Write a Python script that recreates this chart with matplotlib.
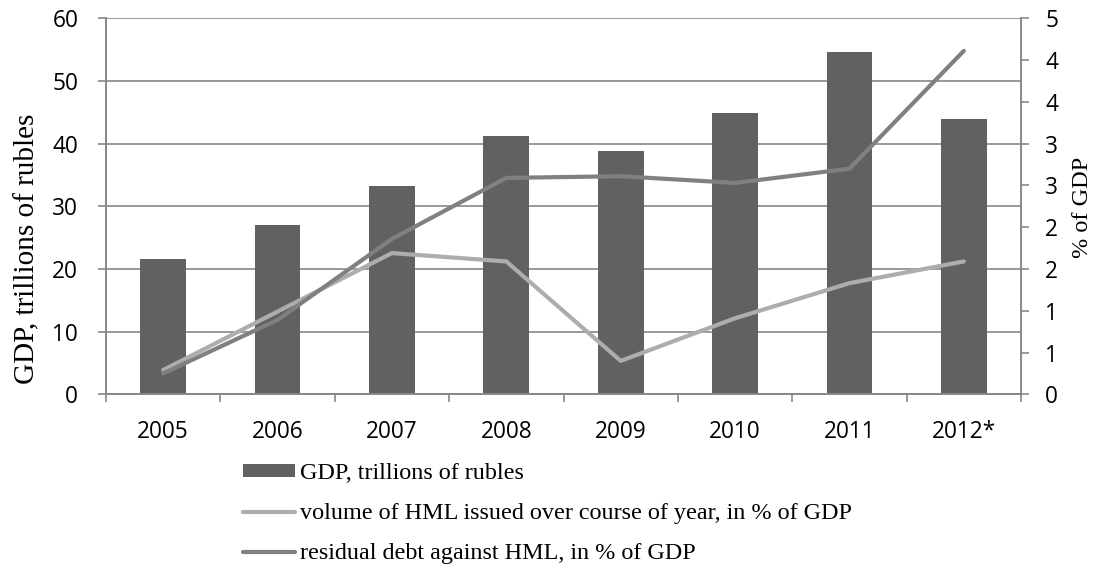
import numpy as np
import matplotlib
matplotlib.use("Agg")
import matplotlib.pyplot as plt
from matplotlib.patches import Patch
from matplotlib.lines import Line2D
from matplotlib.ticker import FuncFormatter

# data
years = ["2005", "2006", "2007", "2008", "2009", "2010", "2011", "2012*"]
gdp = [21.6, 27.0, 33.3, 41.2, 38.8, 44.9, 54.6, 44.0]          # trillions of rubles
hml_issued = [0.29, 0.99, 1.69, 1.59, 0.40, 0.91, 1.33, 1.59]   # % of GDP
hml_debt = [0.25, 0.89, 1.86, 2.59, 2.61, 2.53, 2.70, 4.11]     # % of GDP

bar_color = "#616161"
light_color = "#ADADAD"
dark_color = "#808080"
axis_color = "#888888"

sans = ["Open Sans", "DejaVu Sans"]
serif = ["Liberation Serif", "DejaVu Serif"]

fig = plt.figure(figsize=(11, 5.69), dpi=100)
ax = fig.add_axes([106 / 1100, 1 - 394.3 / 569, 915 / 1100, 376 / 569])
ax2 = ax.twinx()

x = np.arange(len(years))
ax.bar(x, gdp, width=0.4, color=bar_color, zorder=2)
ax2.plot(x, hml_issued, color=light_color, lw=3, solid_capstyle="round",
         solid_joinstyle="round", zorder=3)
ax2.plot(x, hml_debt, color=dark_color, lw=3, solid_capstyle="round",
         solid_joinstyle="round", zorder=3)

# left axis
ax.set_xlim(-0.5, len(years) - 0.5)
ax.set_ylim(0, 60)
ax.set_yticks(np.arange(0, 61, 10))
ax.yaxis.grid(True, color=axis_color, lw=1.2, zorder=0)
ax.set_axisbelow(True)
ax.set_xticks(np.arange(-0.5, len(years), 1.0))
ax.set_xticklabels([])
ax.set_xticks(x, minor=True)
ax.set_xticklabels(years, minor=True, fontfamily=sans, fontsize=16.3)
ax.tick_params(axis="x", which="major", length=6, width=1.2, color=axis_color, direction="out")
ax.tick_params(axis="x", which="minor", length=0, pad=18.6)
ax.tick_params(axis="y", length=6, width=1.2, color=axis_color, pad=14)
for lab in ax.get_yticklabels():
    lab.set_fontfamily(sans)
    lab.set_fontsize(16.3)

# right axis, labels rounded half up
ax2.set_ylim(0, 4.5)
ax2.set_yticks(np.arange(0, 4.51, 0.5))
ax2.yaxis.set_major_formatter(FuncFormatter(lambda v, p: "%d" % int(np.floor(v + 0.5))))
ax2.tick_params(axis="y", length=6, width=1.2, color=axis_color, pad=11.5, labelsize=16.3)
for lab in ax2.get_yticklabels():
    lab.set_fontfamily(sans)

for a in (ax, ax2):
    a.spines["top"].set_visible(False)
    for side in ("left", "right", "bottom"):
        a.spines[side].set_color(axis_color)
        a.spines[side].set_linewidth(1.2)

# axis titles
fig.text(27.5 / 1100, 1 - 249 / 569, "GDP, trillions of rubles", rotation=90,
         ha="center", va="center", fontfamily=serif, fontsize=21)
fig.text(1083 / 1100, 1 - 207.5 / 569, "% of GDP", rotation=90,
         ha="center", va="center", fontfamily=serif, fontsize=17.5)

handles = [
    Patch(facecolor=bar_color, edgecolor="none"),
    Line2D([], [], color=light_color, lw=3, solid_capstyle="round"),
    Line2D([], [], color=dark_color, lw=3, solid_capstyle="round"),
]
labels = [
    "GDP, trillions of rubles",
    "volume of HML issued over course of year, in % of GDP",
    "residual debt against HML, in % of GDP",
]
fig.legend(handles, labels, loc="upper left", bbox_to_anchor=(243 / 1100, 1 - 463 / 569),
           frameon=False, borderpad=0, borderaxespad=0, handlelength=2.15,
           handleheight=0.45, handletextpad=0.2, labelspacing=0.79,
           prop={"family": serif, "size": 17.4})

fig.savefig("out.png", dpi=100)
